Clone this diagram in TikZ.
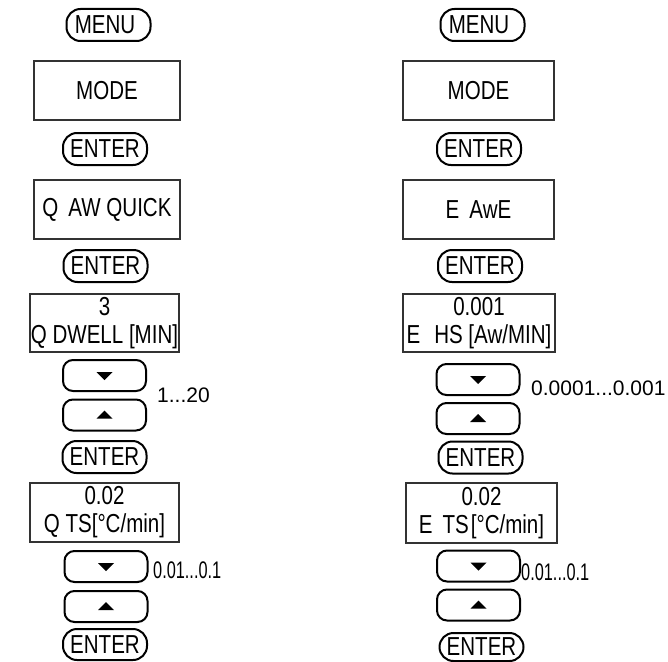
\documentclass[tikz,border=0pt]{standalone}
\usepackage{fontspec}
\setmainfont[FakeStretch=0.79]{Liberation Sans}
\newfontfamily\lblfont{Liberation Sans}
\newfontfamily\lblnarrow[FakeStretch=0.68]{Liberation Sans}
\begin{document}
\begin{tikzpicture}[x=1pt,y=-1pt,
  lcd/.style={draw=black!80, line width=1.2pt, inner sep=0pt, align=center,
    font=\fontsize{26}{28}\selectfont},
  pill/.style={draw, line width=2pt, rounded corners=14pt, inner sep=0pt,
    minimum width=84pt, minimum height=32pt, font=\fontsize{26}{28}\selectfont},
  key/.style={draw, line width=2pt, rounded corners=10pt, inner sep=0pt,
    minimum width=83pt, minimum height=31pt},
  rng/.style={anchor=west, inner sep=0pt, font=\lblfont\fontsize{21}{24}\selectfont},
  rngn/.style={anchor=west, inner sep=0pt, font=\lblnarrow\fontsize{24}{24}\selectfont}]
\useasboundingbox (0,0) rectangle (668,661);
% ---------- left column ----------
\node[pill] (lmenu) at (108.5,25) {MENU\kern7pt};
\node[lcd, minimum width=146pt, minimum height=59pt] (lmode) at (107,90.5) {MODE};
\node[pill] (lent1) at (105,149) {ENTER};
\node[lcd, minimum width=146pt, minimum height=59pt] (lquick) at (107,209.5) {Q\hspace{10pt}AW QUICK};
\node[pill] (lent2) at (105.5,266) {ENTER};
\node[lcd, minimum width=149pt, minimum height=58pt] (ldwell) at (104.5,323) {3\\Q DWELL [MIN]};
\node[key] (ld1) at (104.5,375.5) {};
\node[key] (lu1) at (104.5,415) {};
\node[pill] (lent3) at (104.5,457) {ENTER};
\node[lcd, minimum width=149pt, minimum height=59pt] (lts) at (104.5,512.5) {0.02\\Q TS[°C/min]};
\node[key] (ld2) at (106,566.5) {};
\node[key] (lu2) at (106,606.5) {};
\node[pill, minimum height=31pt] (lent4) at (105,644.5) {ENTER};
\node[rng] (lr1) at (157,395) {1...20};
\node[rngn] (lr2) at (153,570) {0.01...0.1};
% ---------- right column ----------
\node[pill] (rmenu) at (482.5,25) {MENU\kern7pt};
\node[lcd, minimum width=151pt, minimum height=59pt] (rmode) at (478.5,90.5) {MODE};
\node[pill] (rent1) at (479,149) {ENTER};
\node[lcd, minimum width=151pt, minimum height=59pt] (rawe) at (478.5,209.5) {E\hspace{10pt}AwE};
\node[pill] (rent2) at (480,266) {ENTER};
\node[lcd, minimum width=152pt, minimum height=58pt] (rhs) at (479,323) {0.001\\E\hspace{14pt}HS [Aw/MIN]};
\node[key] (rd1) at (478,379.5) {};
\node[key] (ru1) at (478,418.5) {};
\node[pill] (rent3) at (480.5,457.5) {ENTER};
\node[lcd, minimum width=151pt, minimum height=60pt] (rts) at (481.5,513) {0.02\\E\hspace{10pt}TS\hspace{2pt}[°C/min]};
\node[key] (rd2) at (478.5,566) {};
\node[key] (ru2) at (478.5,605) {};
\node[pill, minimum height=28pt] (rent4) at (481.5,647) {ENTER};
\node[rng] (rr1) at (531,388) {0.0001...0.001};
\node[rngn] (rr2) at (521,572) {0.01...0.1};
% ---------- arrow glyphs ----------
\foreach \n in {ld1,ld2,rd1,rd2}
  \fill ([shift={(-8pt,3.5pt)}]\n.center) -- ++(16pt,0pt) -- ++(-8pt,-8pt) -- cycle;
\foreach \n in {lu1,lu2,ru1,ru2}
  \fill ([shift={(-8pt,-3.5pt)}]\n.center) -- ++(16pt,0pt) -- ++(-8pt,8pt) -- cycle;
\end{tikzpicture}
\end{document}
